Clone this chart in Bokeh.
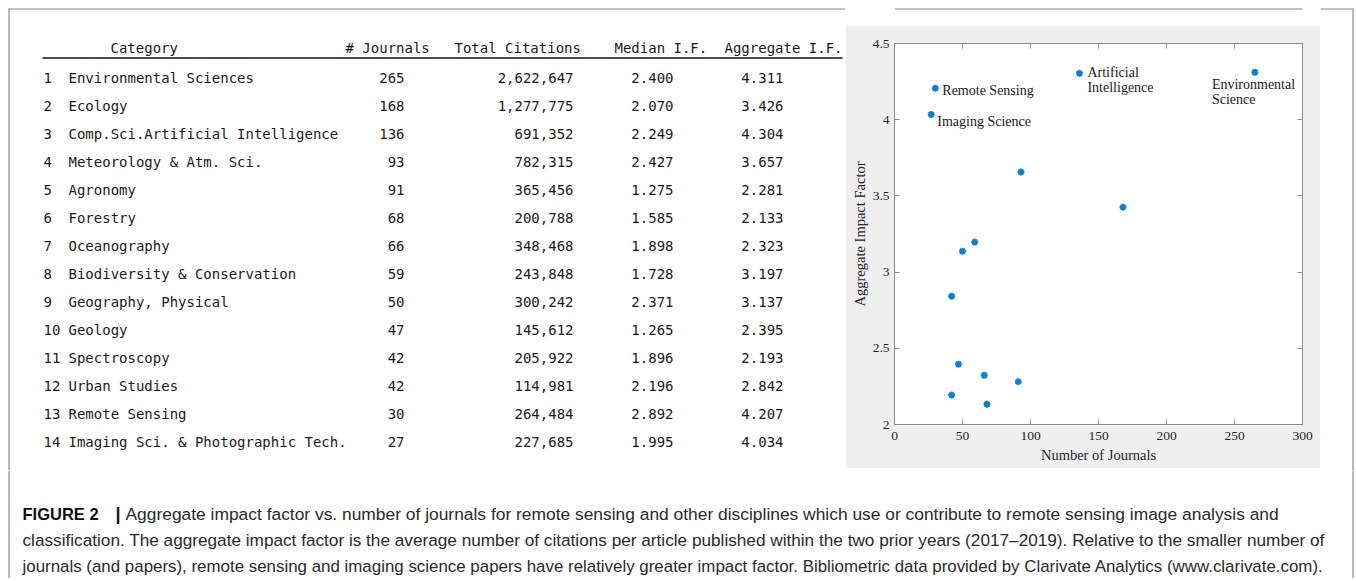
from bokeh.plotting import figure
from bokeh.models import Range1d, FixedTicker, NumeralTickFormatter, LinearAxis, ColumnDataSource
from bokeh.layouts import row, column
from bokeh.core.properties import value
from bokeh.embed import file_html
from bokeh.resources import INLINE

# ---------------- data ----------------
categories = [
    "Environmental Sciences", "Ecology", "Comp.Sci.Artificial Intelligence",
    "Meteorology & Atm. Sci.", "Agronomy", "Forestry", "Oceanography",
    "Biodiversity & Conservation", "Geography, Physical", "Geology",
    "Spectroscopy", "Urban Studies", "Remote Sensing",
    "Imaging Sci. & Photographic Tech.",
]
journals = [265, 168, 136, 93, 91, 68, 66, 59, 50, 47, 42, 42, 30, 27]
citations = [2622647, 1277775, 691352, 782315, 365456, 200788, 348468,
             243848, 300242, 145612, 205922, 114981, 264484, 227685]
median_if = [2.400, 2.070, 2.249, 2.427, 1.275, 1.585, 1.898, 1.728,
             2.371, 1.265, 1.896, 2.196, 2.892, 1.995]
aggregate_if = [4.311, 3.426, 4.304, 3.657, 2.281, 2.133, 2.323, 3.197,
                3.137, 2.395, 2.193, 2.842, 4.207, 4.034]

header_labels = ["Category", "# Journals", "Total Citations", "Median I.F.", "Aggregate I.F."]

x_ticks = [0, 50, 100, 150, 200, 250, 300]
y_ticks = [2, 2.5, 3, 3.5, 4, 4.5]
x_label = "Number of Journals"
y_label = "Aggregate Impact Factor"

annot_index = [0, 2, 12, 13]
annot_text = ["Environmental\nScience", "Artificial\nIntelligence", "Remote Sensing", "Imaging Science"]

caption_bold = "FIGURE 2"
caption_bar = "|"
caption_lines = [
    "Aggregate impact factor vs. number of journals for remote sensing and other disciplines which use or contribute to remote sensing image analysis and",
    "classification. The aggregate impact factor is the average number of citations per article published within the two prior years (2017\u20132019). Relative to the smaller number of",
    "journals (and papers), remote sensing and imaging science papers have relatively greater impact factor. Bibliometric data provided by Clarivate Analytics (www.clarivate.com).",
]

# ---------------- styles / layout (page pixel coordinates) ----------------
PAGE_W, PAGE_H = 1354, 578
BOX_L, BOX_T, BOX_R = 8, 8, 1352
BORDER = "#888888"
TXT = "#1a1a1a"
MONO = value("DejaVu Sans Mono")
SERIF_NAME = "Liberation Serif"
SERIF = value(SERIF_NAME)
SANS = value("Liberation Sans")
AX = "#8a8a8a"


def panel(x0, y0, x1, y1, top=False, left=False, right=False):
    """A blank canvas in page pixel units; draws its share of the outer frame
    as ordinary CSS borders on the canvas element."""
    styles = {}
    w, h = x1 - x0, y1 - y0
    p = figure(width=w, height=h,
               x_range=Range1d(x0, x1), y_range=Range1d(y1, y0),
               output_backend="svg", toolbar_location=None, tools="",
               x_axis_location=None, y_axis_location=None, min_border=0,
               outline_line_color=None, background_fill_color="white",
               border_fill_color="white")
    p.grid.visible = False
    # frame pieces drawn as thin lines through the data space of this panel
    xs, ys = [], []
    if top:
        xs.append([max(BOX_L, x0), min(BOX_R, x1)]); ys.append([BOX_T + 0.5, BOX_T + 0.5])
    if left:
        xs.append([BOX_L + 0.5, BOX_L + 0.5]); ys.append([max(BOX_T, y0), y1])
    if right:
        xs.append([BOX_R + 0.5, BOX_R + 0.5]); ys.append([max(BOX_T, y0), y1])
    if xs:
        p.multi_line(xs=xs, ys=ys, line_color=BORDER, line_width=1.2)
    return p


TOP_H = 470
SC_X0, SC_X1 = 845, 1320
SC_Y0, SC_Y1 = 25, 468

# ---------------- table ----------------
tab = panel(0, 0, SC_X0, TOP_H, top=True, left=True)

head_x = [110, 345, 454, 614, 724]
head_y = 47.5
tab.text(x=head_x, y=[head_y] * len(header_labels), text=header_labels,
         text_font=MONO, text_font_size="14px", text_color=TXT,
         text_baseline="middle", text_align="left")
tab.segment(x0=[42], y0=[57.5], x1=[842], y1=[57.5], line_color="#111111", line_width=1.3)

row_y = [77 + 28 * i for i in range(len(categories))]
num_txt = [str(i + 1) for i in range(len(categories))]
tab.text(x=[43] * len(categories), y=row_y, text=num_txt, text_font=MONO,
         text_font_size="14px", text_color=TXT, text_baseline="middle", text_align="left")
tab.text(x=[68] * len(categories), y=row_y, text=categories, text_font=MONO,
         text_font_size="14px", text_color=TXT, text_baseline="middle", text_align="left")

col_right = [404, 573, 673, 783]
col_text = [
    [str(v) for v in journals],
    ["{:,}".format(v) for v in citations],
    ["{:.3f}".format(v) for v in median_if],
    ["{:.3f}".format(v) for v in aggregate_if],
]
for xr, texts in zip(col_right, col_text):
    tab.text(x=[xr] * len(texts), y=row_y, text=texts, text_font=MONO,
             text_font_size="14px", text_color=TXT, text_baseline="middle", text_align="right")

# ---------------- scatter ----------------
top_gap = panel(SC_X0, 0, SC_X1, SC_Y0, top=True)

sc = figure(width=SC_X1 - SC_X0, height=SC_Y1 - SC_Y0,
            x_range=Range1d(0, 300), y_range=Range1d(2, 4.5),
            output_backend="svg", toolbar_location=None, tools="",
            min_border_left=49, min_border_right=18, min_border_top=18, min_border_bottom=44,
            background_fill_color="white", border_fill_color="#efefef",
            outline_line_color=AX)
sc.grid.visible = False

sc.xaxis.ticker = FixedTicker(ticks=x_ticks)
sc.yaxis.ticker = FixedTicker(ticks=y_ticks)
sc.xaxis.formatter = NumeralTickFormatter(format="0.[0]")
sc.yaxis.formatter = NumeralTickFormatter(format="0.[0]")
sc.xaxis.axis_label = x_label
sc.yaxis.axis_label = y_label

for ax in (sc.xaxis[0], sc.yaxis[0]):
    ax.axis_line_color = AX
    ax.major_tick_line_color = AX
    ax.major_tick_in = 5
    ax.major_tick_out = 0
    ax.minor_tick_line_color = None
    ax.major_label_text_font = SERIF_NAME
    ax.major_label_text_font_size = "13.5px"
    ax.major_label_text_color = "#262626"
    ax.axis_label_text_font = SERIF_NAME
    ax.axis_label_text_font_size = "14.5px"
    ax.axis_label_text_font_style = "normal"
    ax.axis_label_text_color = "#262626"
sc.xaxis.major_label_standoff = 7
sc.xaxis.axis_label_standoff = 4
sc.yaxis.major_label_standoff = 5
sc.yaxis.axis_label_standoff = 2

for loc, ticks in (("above", x_ticks), ("right", y_ticks)):
    extra = LinearAxis(ticker=FixedTicker(ticks=ticks), axis_line_color=AX,
                       major_tick_line_color=AX, major_tick_in=5, major_tick_out=0,
                       minor_tick_line_color=None, major_label_standoff=0,
                       major_label_overrides={t: "" for t in ticks})
    sc.add_layout(extra, loc)

sc.scatter(journals, aggregate_if, marker="asterisk", size=7,
           line_color="#0b80d0", line_width=2)

annot_src = ColumnDataSource(dict(
    x=[journals[i] for i in annot_index],
    y=[aggregate_if[i] for i in annot_index],
    text=annot_text,
    xo=[-43, 8, 7, 6],
    yo=[5, -8, -5, -1],
))
sc.text(x="x", y="y", text="text", x_offset="xo", y_offset="yo", source=annot_src,
        text_font=SERIF, text_font_size="14px", text_color="#1a1a1a",
        text_baseline="top", text_align="left", text_line_height=1.0)

right_strip = panel(SC_X1, 0, PAGE_W, TOP_H, top=True, right=True)

# ---------------- caption ----------------
cap = panel(0, TOP_H, PAGE_W, PAGE_H, left=True, right=True)
cap_y = [513.5, 539.5, 565.5]
cap.text(x=[22], y=[cap_y[0]], text=[caption_bold], text_font=SANS, text_font_size="16.5px",
         text_font_style="bold", text_color="#111111", text_baseline="middle")
cap.text(x=[115], y=[cap_y[0]], text=[caption_bar], text_font=SANS, text_font_size="18px",
         text_font_style="bold", text_color="#111111", text_baseline="middle")
cap_src = ColumnDataSource(dict(
    x=[125, 22, 22], y=cap_y, text=caption_lines,
    size=["17.4px", "17.2px", "16.9px"],
))
cap.text(x="x", y="y", text="text", source=cap_src, text_font=SANS, text_font_size="size",
         text_color="#2a2a2a", text_baseline="middle")

layout = column(row(tab, column(top_gap, sc), right_strip), cap)

open("out.html", "w").write(file_html(layout, INLINE))
